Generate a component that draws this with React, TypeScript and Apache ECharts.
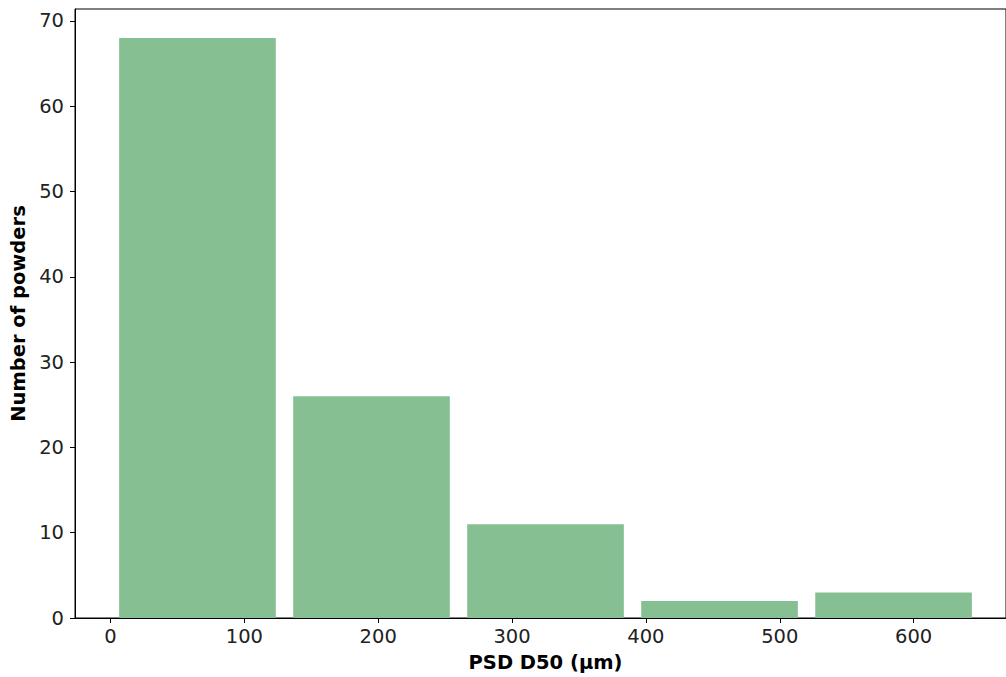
import React, { useEffect, useRef } from "react";
import * as echarts from "echarts";

// Histogram of powder median particle size (D50)
const binEdges = [0, 130, 260, 390, 520, 650];
const counts = [68, 26, 11, 2, 3];
const xTicks = [0, 100, 200, 300, 400, 500, 600];
const yTicks = [0, 10, 20, 30, 40, 50, 60, 70];

const barFill = "#86bf91";
const relWidth = 0.9;

export default function App() {
  const ref = useRef<HTMLDivElement>(null);

  useEffect(() => {
    if (!ref.current) return;
    const chart = echarts.init(ref.current, undefined, { renderer: "svg" });

    const binData = counts.map((c, i) => [binEdges[i], binEdges[i + 1], c]);

    chart.setOption({
      animation: false,
      backgroundColor: "#ffffff",
      textStyle: { fontFamily: "DejaVu Sans" },
      grid: {
        left: 75,
        right: 0,
        top: 9,
        bottom: 59,
        outerBoundsMode: "none",
        containLabel: false,
        show: true,
        borderColor: "#000",
        borderWidth: 1,
        backgroundColor: "transparent",
      },
      xAxis: {
        type: "value",
        min: -26.5,
        max: 669,
        name: "PSD D50 (μm)",
        nameLocation: "middle",
        nameGap: 34,
        nameTextStyle: { fontSize: 19.5, fontWeight: "bold", color: "#000", padding: [0, 0, 0, 10] },
        axisLine: { show: true, onZero: false, lineStyle: { color: "#000", width: 1 } },
        axisTick: { show: true, length: 5, lineStyle: { color: "#000" }, customValues: xTicks },
        axisLabel: { fontSize: 19.5, color: "#222", margin: 8, customValues: xTicks },
        splitLine: { show: false },
      },
      yAxis: {
        type: "value",
        min: 0,
        max: 71.4,
        name: "Number of powders",
        nameLocation: "middle",
        nameGap: 44,
        nameRotate: 90,
        nameTextStyle: { fontSize: 19.5, fontWeight: "bold", color: "#000" },
        axisLine: { show: true, onZero: false, lineStyle: { color: "#000", width: 1 } },
        axisTick: { show: true, length: 5, lineStyle: { color: "#000" }, customValues: yTicks },
        axisLabel: { fontSize: 19.5, color: "#222", margin: 11, customValues: yTicks },
        splitLine: { show: false },
      },
      series: [
        {
          type: "custom",
          data: binData,
          encode: { x: [0, 1], y: 2 },
          renderItem: (params: any, api: any) => {
            const lo = api.value(0);
            const hi = api.value(1);
            const c = api.value(2);
            const w = (hi - lo) * relWidth;
            const mid = (lo + hi) / 2;
            const p0 = api.coord([mid - w / 2, 0]);
            const p1 = api.coord([mid + w / 2, c]);
            return {
              type: "rect",
              shape: { x: p0[0], y: p1[1], width: p1[0] - p0[0], height: p0[1] - p1[1] },
              style: { fill: barFill },
            };
          },
        },
      ],
    });

    return () => chart.dispose();
  }, []);

  return (
    <div
      ref={ref}
      style={{ position: "fixed", left: 0, top: 0, width: 1006, height: 677 }}
    />
  );
}
